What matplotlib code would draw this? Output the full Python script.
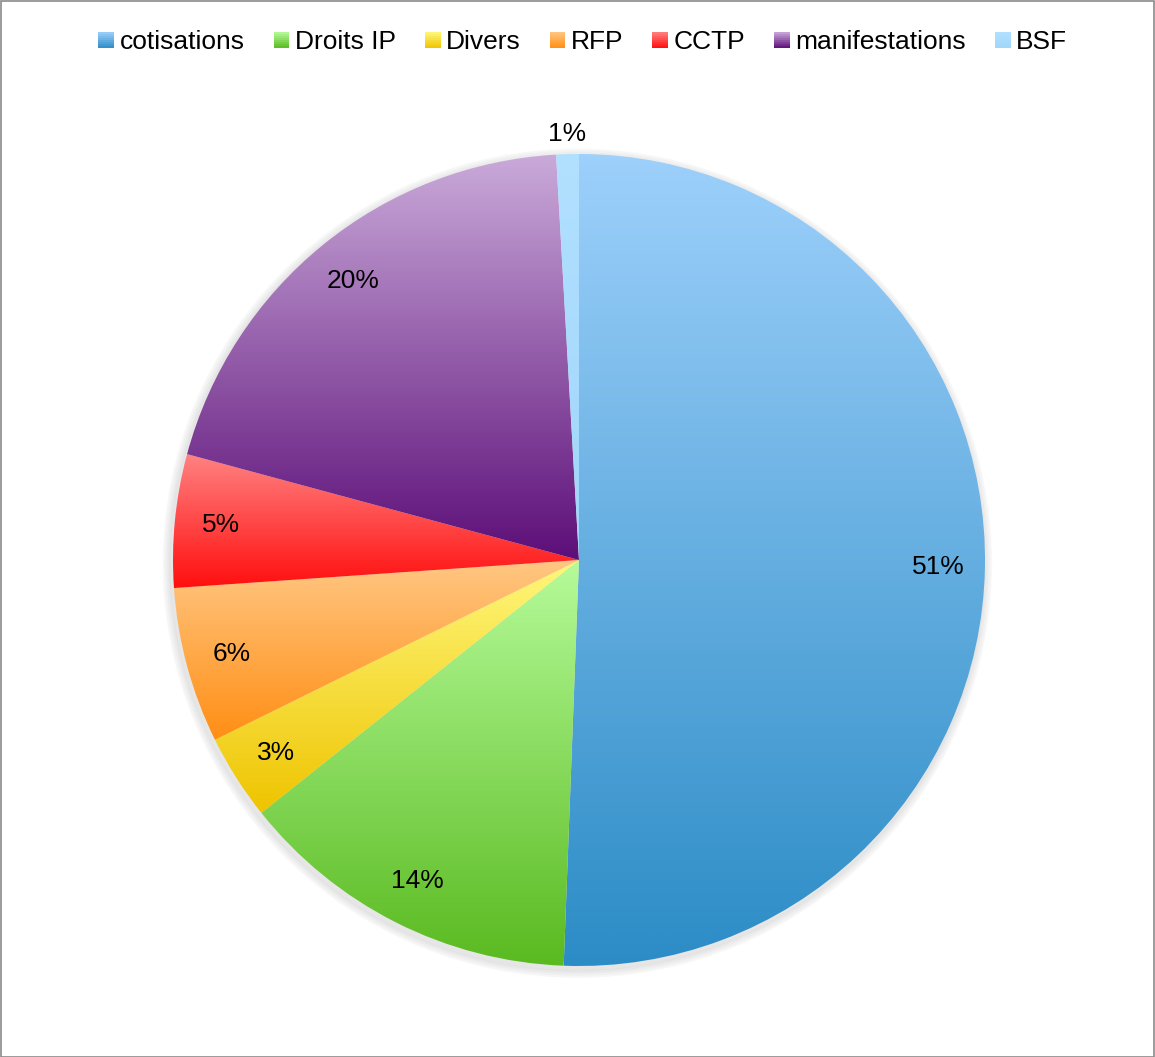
import numpy as np
import matplotlib
matplotlib.use("Agg")
import matplotlib.pyplot as plt
from matplotlib.colors import LinearSegmentedColormap
from matplotlib.legend_handler import HandlerBase
from matplotlib.patches import Rectangle

plt.rcParams['font.family'] = ['Liberation Sans', 'DejaVu Sans']

labels = ['cotisations', 'Droits IP', 'Divers', 'RFP', 'CCTP', 'manifestations', 'BSF']
values = [50.6, 13.7, 3.4, 6.2, 5.3, 19.9, 0.9]
# gradient colours: top (light) -> bottom (dark)
tops = ['#9dd0fb', '#b6fb9a', '#fff77c', '#ffc783', '#ff8282', '#caaada', '#b2e0ff']
bottoms = ['#2c8cc6', '#5aba20', '#eec400', '#ff8e14', '#ff0e0e', '#5c0e78', '#9fd6fa']

W, H = 1155, 1057
fig = plt.figure(figsize=(W / 100, H / 100), dpi=100)
R = 406
cx, cy = 579, 560
ax = fig.add_axes([(cx - R) / W, (H - cy - R) / H, 2 * R / W, 2 * R / H])

wedges, texts, autotexts = ax.pie(values, startangle=90, counterclock=False,
                                  radius=1, autopct='%1.0f%%', pctdistance=0.885,
                                  textprops={'fontsize': 19, 'color': 'black'})

ax.set_aspect('equal')
ax.axis('off')

# soft shadow behind pie, offset down-left
for i in range(5):
    sh = plt.Circle((-0.004, -0.008), 1.0 + 0.004 * (i + 1), color='black', alpha=0.018,
                    zorder=0, clip_on=False)
    ax.add_patch(sh)

for w, t, b in zip(wedges, tops, bottoms):
    w.set_facecolor('none')
    w.set_edgecolor('none')
    verts = w.get_path().vertices
    ymin, ymax = verts[:, 1].min(), verts[:, 1].max()
    xmin, xmax = verts[:, 0].min(), verts[:, 0].max()
    cmap = LinearSegmentedColormap.from_list('g', [b, t])
    grad = np.linspace(0, 1, 256).reshape(-1, 1)
    im = ax.imshow(grad, cmap=cmap, origin='lower', aspect='auto',
                   extent=[xmin, xmax, ymin, ymax], zorder=1, interpolation='bilinear')
    im.set_clip_path(w)

for t in autotexts:
    t.set_zorder(5)
    t.set_clip_on(False)

# BSF label sits outside the pie
theta = np.deg2rad((wedges[-1].theta1 + wedges[-1].theta2) / 2)
autotexts[-1].set_position((1.05 * np.cos(theta), 1.05 * np.sin(theta)))

ax.set_xlim(-1, 1)
ax.set_ylim(-1, 1)


class GradHandler(HandlerBase):
    def __init__(self, top, bottom):
        super().__init__()
        self.top = top
        self.bottom = bottom

    def create_artists(self, legend, orig_handle, xdescent, ydescent, width, height, fontsize, trans):
        cmap = LinearSegmentedColormap.from_list('g', [self.bottom, self.top])
        n = 8
        side = min(width, height * 0.9)
        x0 = width - side
        y0 = (height - side) / 2
        arts = []
        for k in range(n):
            r = Rectangle((x0 - xdescent, y0 - ydescent + side * k / n), side, side / n + 0.01,
                          facecolor=cmap((k + 0.5) / n), edgecolor='none', transform=trans)
            arts.append(r)
        return arts


handles = [Rectangle((0, 0), 1, 1) for _ in labels]
hmap = {h: GradHandler(t, b) for h, t, b in zip(handles, tops, bottoms)}
fig.legend(handles, labels, handler_map=hmap, loc='center', ncol=7,
           bbox_to_anchor=(0.5045, 1 - 42 / H), frameon=False, fontsize=19,
           handlelength=0.6, handleheight=0.65, handletextpad=0.2, columnspacing=1.1)

fig.add_artist(Rectangle((0.5 / W, 0.5 / H), 1 - 2 / W, 1 - 1.5 / H, transform=fig.transFigure,
                         facecolor='none', edgecolor='#8a8a8a', linewidth=1.2))

fig.savefig('out.png', dpi=100)
